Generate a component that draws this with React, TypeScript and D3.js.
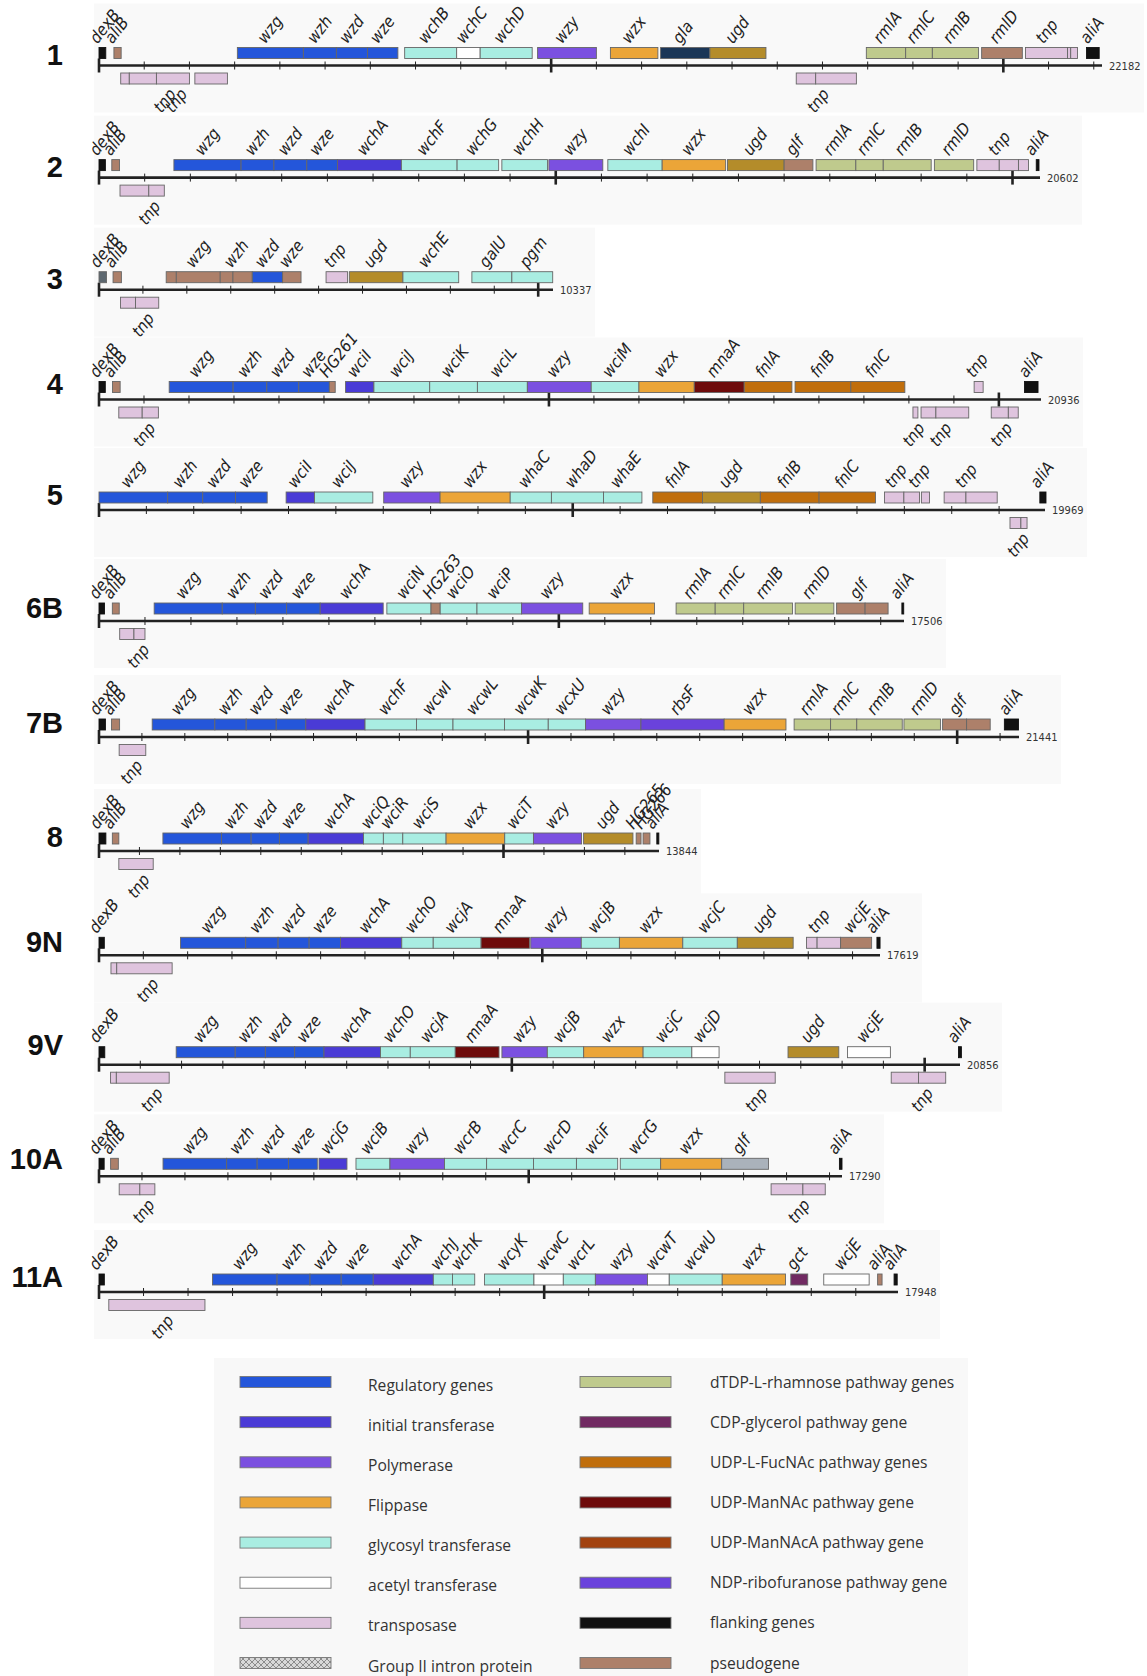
import React from "react";
import * as d3 from "d3";

type Gene = [string, number, number, string, number?];

// ---------- data (gene coordinates in kb) ----------
const rowNames = ["1", "2", "3", "4", "5", "6B", "7B", "8", "9N", "9V", "10A", "11A"];
const rowLengths = [22182, 20602, 10337, 20936, 19969, 17506, 21441, 13844, 17619, 20856, 17290, 17948];

const genes1: Gene[] = [
  ["dexB", 0, 0.15, "flank"], ["aliB", 0.33, 0.49, "pseudo"],
  ["wzg", 3.06, 4.52, "reg"], ["wzh", 4.52, 5.25, "reg"], ["wzd", 5.25, 5.94, "reg"], ["wze", 5.94, 6.61, "reg"],
  ["wchB", 6.76, 7.91, "gly"], ["wchC", 7.91, 8.43, "acet"], ["wchD", 8.43, 9.58, "gly"],
  ["wzy", 9.7, 11.0, "poly"], ["wzx", 11.31, 12.36, "flip"], ["gla", 12.42, 13.51, "gla"], ["ugd", 13.51, 14.75, "ugd"],
  ["rmlA", 16.97, 17.84, "rha"], ["rmlC", 17.84, 18.43, "rha"], ["rmlB", 18.43, 19.45, "rha"], ["rmlD", 19.52, 20.42, "pseudo"],
  ["tnp", 20.49, 21.42, "tnp", 21.0], ["", 21.42, 21.49, "tnp"], ["", 21.49, 21.64, "tnp"], ["aliA", 21.84, 22.12, "flank"],
];
const below1: Gene[] = [
  ["", 0.48, 0.67, "tnp"], ["tnp", 0.67, 1.27, "tnp", 1.4], ["tnp", 1.27, 2.0, "tnp", 1.65], ["", 2.12, 2.84, "tnp"],
  ["tnp", 15.42, 15.85, "tnp", 15.85], ["", 15.85, 16.75, "tnp"],
];

const genes2: Gene[] = [
  ["dexB", 0, 0.14, "flank"], ["aliB", 0.28, 0.45, "pseudo"],
  ["wzg", 1.64, 3.11, "reg"], ["wzh", 3.11, 3.83, "reg"], ["wzd", 3.83, 4.55, "reg"], ["wze", 4.55, 5.22, "reg"],
  ["wchA", 5.22, 6.62, "init"], ["wchF", 6.62, 7.84, "gly"], ["wchG", 7.84, 8.75, "gly"], ["wchH", 8.82, 9.82, "gly"],
  ["wzy", 9.85, 11.03, "poly"], ["wchI", 11.14, 12.33, "gly"], ["wzx", 12.33, 13.72, "flip"], ["ugd", 13.76, 15.0, "ugd"],
  ["glf", 15.0, 15.63, "pseudo"], ["rmlA", 15.7, 16.57, "rha"], ["rmlC", 16.57, 17.17, "rha"], ["rmlB", 17.17, 18.22, "rha"],
  ["rmlD", 18.29, 19.15, "rha"], ["tnp", 19.22, 19.71, "tnp", 19.75], ["", 19.71, 20.13, "tnp"], ["", 20.13, 20.35, "tnp"],
  ["aliA", 20.52, 20.58, "flank"],
];
const below2: Gene[] = [["tnp", 0.46, 1.09, "tnp", 1.05], ["", 1.09, 1.43, "tnp"]];

const genes3: Gene[] = [
  ["dexB", 0, 0.17, "flankgrey"], ["aliB", 0.32, 0.51, "pseudo"],
  ["", 1.53, 1.76, "pseudo"], ["wzg", 1.76, 2.76, "pseudo", 2.26], ["", 2.76, 3.05, "pseudo"], ["wzh", 3.05, 3.49, "pseudo", 3.13],
  ["wzd", 3.49, 4.18, "reg"], ["wze", 4.18, 4.6, "pseudo"], ["tnp", 5.17, 5.66, "tnp"], ["ugd", 5.7, 6.92, "ugd"],
  ["wchE", 6.92, 8.19, "gly"], ["galU", 8.49, 9.4, "gly"], ["pgm", 9.4, 10.33, "gly"],
];
const below3: Gene[] = [["", 0.49, 0.83, "tnp"], ["tnp", 0.83, 1.36, "tnp", 0.95]];

const genes4: Gene[] = [
  ["dexB", 0, 0.14, "flank"], ["aliB", 0.3, 0.47, "pseudo"],
  ["wzg", 1.56, 2.98, "reg"], ["wzh", 2.98, 3.73, "reg"], ["wzd", 3.73, 4.44, "reg"], ["wze", 4.44, 5.12, "reg"],
  ["HG261", 5.12, 5.25, "pseudo"], ["wciI", 5.48, 6.11, "init"], ["wciJ", 6.11, 7.35, "gly"], ["wciK", 7.35, 8.41, "gly"],
  ["wciL", 8.41, 9.52, "gly"], ["wzy", 9.52, 10.94, "poly"], ["wciM", 10.94, 12.0, "gly"], ["wzx", 12.0, 13.23, "flip"],
  ["mnaA", 13.23, 14.34, "mnac"], ["fnlA", 14.34, 15.4, "fuc"], ["fnlB", 15.47, 16.71, "fuc"], ["fnlC", 16.71, 17.91, "fuc"],
  ["tnp", 19.45, 19.65, "tnp"], ["aliA", 20.57, 20.87, "flank"],
];
const below4: Gene[] = [
  ["", 0.44, 0.96, "tnp"], ["tnp", 0.96, 1.32, "tnp", 0.95],
  ["tnp", 18.09, 18.2, "tnp", 18.05], ["", 18.27, 18.6, "tnp"], ["tnp", 18.6, 19.33, "tnp", 18.65],
  ["tnp", 19.83, 20.21, "tnp", 20.0], ["", 20.21, 20.43, "tnp"],
];

const genes5: Gene[] = [
  ["wzg", 0, 1.45, "reg"], ["wzh", 1.45, 2.19, "reg"], ["wzd", 2.19, 2.88, "reg"], ["wze", 2.88, 3.55, "reg"],
  ["wciI", 3.95, 4.55, "init"], ["wciJ", 4.55, 5.78, "gly"], ["wzy", 6.01, 7.2, "poly"], ["wzx", 7.2, 8.68, "flip"],
  ["whaC", 8.68, 9.55, "gly"], ["whaD", 9.55, 10.65, "gly"], ["whaE", 10.65, 11.46, "gly"],
  ["fnlA", 11.69, 12.74, "fuc"], ["ugd", 12.74, 13.96, "ugd"], ["fnlB", 13.96, 15.2, "fuc"], ["fnlC", 15.2, 16.39, "fuc"],
  ["tnp", 16.58, 16.99, "tnp", 16.86], ["", 16.99, 17.32, "tnp"], ["tnp", 17.36, 17.53, "tnp", 17.35],
  ["tnp", 17.84, 18.3, "tnp", 18.34], ["", 18.3, 18.96, "tnp"], ["aliA", 19.86, 19.99, "flank"],
];
const below5: Gene[] = [["", 19.23, 19.46, "tnp"], ["tnp", 19.46, 19.59, "tnp", 19.35]];

const genes6: Gene[] = [
  ["dexB", 0, 0.12, "flank"], ["aliB", 0.29, 0.44, "pseudo"],
  ["wzg", 1.2, 2.68, "reg"], ["wzh", 2.68, 3.4, "reg"], ["wzd", 3.4, 4.08, "reg"], ["wze", 4.08, 4.81, "reg"],
  ["wchA", 4.81, 6.18, "init"], ["wciN", 6.26, 7.22, "gly"], ["HG263", 7.22, 7.42, "pseudo"], ["wciO", 7.42, 8.22, "gly"],
  ["wciP", 8.22, 9.19, "gly"], ["wzy", 9.19, 10.52, "poly"], ["wzx", 10.66, 12.08, "flip"],
  ["rmlA", 12.55, 13.4, "rha"], ["rmlC", 13.4, 14.02, "rha"], ["rmlB", 14.02, 15.08, "rha"], ["rmlD", 15.14, 15.98, "rha"],
  ["glf", 16.04, 16.66, "pseudo", 16.6], ["", 16.66, 17.16, "pseudo"], ["aliA", 17.46, 17.5, "flank"],
];
const below6: Gene[] = [["", 0.45, 0.76, "tnp"], ["tnp", 0.76, 1.0, "tnp", 0.8]];

const genes7: Gene[] = [
  ["dexB", 0, 0.15, "flank"], ["aliB", 0.29, 0.48, "pseudo"],
  ["wzg", 1.24, 2.7, "reg"], ["wzh", 2.7, 3.43, "reg"], ["wzd", 3.43, 4.13, "reg"], ["wze", 4.13, 4.82, "reg"],
  ["wchA", 4.82, 6.2, "init"], ["wchF", 6.2, 7.4, "gly"], ["wcwI", 7.4, 8.25, "gly"], ["wcwL", 8.25, 9.45, "gly"],
  ["wcwK", 9.45, 10.47, "gly"], ["wcxU", 10.47, 11.34, "gly"], ["wzy", 11.34, 12.63, "poly"], ["rbsF", 12.63, 14.57, "ribo"],
  ["wzx", 14.57, 16.01, "flip"], ["rmlA", 16.2, 17.05, "rha"], ["rmlC", 17.05, 17.66, "rha"], ["rmlB", 17.66, 18.72, "rha"],
  ["rmlD", 18.76, 19.61, "rha"], ["glf", 19.66, 20.22, "pseudo", 20.1], ["", 20.22, 20.77, "pseudo"], ["aliA", 21.1, 21.43, "flank"],
];
const below7: Gene[] = [["tnp", 0.47, 1.09, "tnp", 0.7]];

const genes8: Gene[] = [
  ["dexB", 0, 0.17, "flank"], ["aliB", 0.33, 0.49, "pseudo"],
  ["wzg", 1.58, 3.03, "reg"], ["wzh", 3.03, 3.76, "reg"], ["wzd", 3.76, 4.46, "reg"], ["wze", 4.46, 5.17, "reg"],
  ["wchA", 5.17, 6.54, "init"], ["wciQ", 6.54, 7.03, "gly"], ["wciR", 7.03, 7.51, "gly"], ["wciS", 7.51, 8.58, "gly"],
  ["wzx", 8.58, 10.03, "flip"], ["wciT", 10.03, 10.74, "gly"], ["wzy", 10.74, 11.93, "poly"], ["ugd", 11.98, 13.2, "ugd"],
  ["HG265", 13.28, 13.4, "pseudo"], ["HG266", 13.45, 13.62, "pseudo"], ["aliA", 13.79, 13.84, "flank"],
];
const below8: Gene[] = [["tnp", 0.49, 1.34, "tnp", 0.92]];

const genes9N: Gene[] = [
  ["dexB", 0, 0.12, "flank"],
  ["wzg", 1.84, 3.31, "reg"], ["wzh", 3.31, 4.04, "reg"], ["wzd", 4.04, 4.74, "reg"], ["wze", 4.74, 5.45, "reg"],
  ["wchA", 5.45, 6.83, "init"], ["wchO", 6.83, 7.54, "gly"], ["wcjA", 7.54, 8.62, "gly"], ["mnaA", 8.62, 9.71, "mnac"],
  ["wzy", 9.74, 10.88, "poly"], ["wcjB", 10.88, 11.74, "gly"], ["wzx", 11.74, 13.17, "flip"], ["wcjC", 13.17, 14.4, "gly"],
  ["ugd", 14.4, 15.66, "ugd"], ["tnp", 15.96, 16.2, "tnp", 16.28], ["", 16.2, 16.73, "tnp"], ["wcjE", 16.73, 17.43, "pseudo"],
  ["aliA", 17.55, 17.62, "flank"],
];
const below9N: Gene[] = [["", 0.27, 0.4, "tnp"], ["tnp", 0.4, 1.65, "tnp", 1.04]];

const genes9V: Gene[] = [
  ["dexB", 0, 0.14, "flank"],
  ["wzg", 1.87, 3.3, "reg"], ["wzh", 3.3, 4.03, "reg"], ["wzd", 4.03, 4.74, "reg"], ["wze", 4.74, 5.45, "reg"],
  ["wchA", 5.45, 6.82, "init"], ["wchO", 6.82, 7.54, "gly"], ["wcjA", 7.54, 8.63, "gly"], ["mnaA", 8.63, 9.69, "mnac"],
  ["wzy", 9.76, 10.86, "poly"], ["wcjB", 10.86, 11.74, "gly"], ["wzx", 11.74, 13.18, "flip"], ["wcjC", 13.18, 14.36, "gly"],
  ["wcjD", 14.36, 15.02, "acet"], ["ugd", 16.69, 17.92, "ugd"], ["wcjE", 18.13, 19.17, "acet"], ["aliA", 20.82, 20.89, "flank"],
];
const below9V: Gene[] = [
  ["", 0.28, 0.42, "tnp"], ["tnp", 0.42, 1.7, "tnp", 1.22],
  ["tnp", 15.16, 16.38, "tnp", 15.86],
  ["tnp", 19.19, 19.85, "tnp", 19.88], ["", 19.85, 20.51, "tnp"],
];

const genes10A: Gene[] = [
  ["dexB", 0, 0.12, "flank"], ["aliB", 0.27, 0.45, "pseudo"],
  ["wzg", 1.49, 2.97, "reg"], ["wzh", 2.97, 3.68, "reg"], ["wzd", 3.68, 4.41, "reg"], ["wze", 4.41, 5.08, "reg"],
  ["wcjG", 5.12, 5.77, "init"], ["wciB", 5.98, 6.77, "gly"], ["wzy", 6.77, 8.04, "poly"], ["wcrB", 8.04, 9.02, "gly"],
  ["wcrC", 9.02, 10.11, "gly"], ["wcrD", 10.11, 11.11, "gly"], ["wciF", 11.11, 12.07, "gly"], ["wcrG", 12.13, 13.07, "gly"],
  ["wzx", 13.07, 14.49, "flip"], ["glf", 14.49, 15.58, "glfgrey"], ["aliA", 17.23, 17.29, "flank"],
];
const below10A: Gene[] = [
  ["", 0.47, 0.95, "tnp"], ["tnp", 0.95, 1.3, "tnp", 0.98],
  ["tnp", 15.64, 16.38, "tnp", 16.23], ["", 16.38, 16.9, "tnp"],
];

const genes11A: Gene[] = [
  ["dexB", 0, 0.12, "flank"],
  ["wzg", 2.55, 4.0, "reg"], ["wzh", 4.0, 4.74, "reg"], ["wzd", 4.74, 5.44, "reg"], ["wze", 5.44, 6.16, "reg"],
  ["wchA", 6.16, 7.51, "init"], ["wchJ", 7.51, 7.94, "gly"], ["wchK", 7.94, 8.44, "gly"], ["wcyK", 8.66, 9.77, "gly"],
  ["wcwC", 9.77, 10.43, "acet"], ["wcrL", 10.43, 11.15, "gly"], ["wzy", 11.15, 12.32, "poly"], ["wcwT", 12.32, 12.81, "acet"],
  ["wcwU", 12.81, 14.0, "gly"], ["wzx", 14.0, 15.42, "flip"], ["gct", 15.54, 15.92, "cdp"], ["wcjE", 16.28, 17.3, "acet"],
  ["aliA", 17.49, 17.59, "pseudo"], ["aliA", 17.86, 17.93, "flank"],
];
const below11A: Gene[] = [["tnp", 0.22, 2.38, "tnp", 1.37]];

const aboveGenes = [genes1, genes2, genes3, genes4, genes5, genes6, genes7, genes8, genes9N, genes9V, genes10A, genes11A];
const belowGenes = [below1, below2, below3, below4, below5, below6, below7, below8, below9N, below9V, below10A, below11A];

const legendLeft: [string, string][] = [
  ["Regulatory genes", "reg"], ["initial transferase", "init"], ["Polymerase", "poly"], ["Flippase", "flip"],
  ["glycosyl transferase", "gly"], ["acetyl transferase", "acet"], ["transposase", "tnp"], ["Group II intron protein", "intron"],
];
const legendRight: [string, string][] = [
  ["dTDP-L-rhamnose pathway genes", "rha"], ["CDP-glycerol pathway gene", "cdp"], ["UDP-L-FucNAc pathway genes", "fuc"],
  ["UDP-ManNAc pathway gene", "mnac"], ["UDP-ManNAcA pathway gene", "mnaca"], ["NDP-ribofuranose pathway gene", "ribo"],
  ["flanking genes", "flank"], ["pseudogene", "pseudo"],
];

// ---------- styles / layout ----------
const typeColor: Record<string, string> = {
  reg: "#2456da", init: "#4a3bd6", poly: "#7b50e0", flip: "#eba538", gly: "#a9ede2", acet: "#ffffff",
  tnp: "#dfc4de", rha: "#bfca8d", cdp: "#712a62", fuc: "#c06e0c", mnac: "#6e0b0b", mnaca: "#a2420f",
  ribo: "#6a42dc", flank: "#111111", pseudo: "#ad806a", ugd: "#b48c2a", gla: "#1b3657",
  glfgrey: "#aab2bb", flankgrey: "#5d6870", intron: "url(#hatch)",
};

const W = 1147, H = 1676;
const rowAxisY = [65.5, 177.6, 289.7, 399.5, 510, 621, 737, 851, 955.3, 1064.7, 1176.3, 1292];
const rowLabelLift = [0, 0, 0, 5, 4, 2, 3, 3, 2, 9, 6, 4];
const rowAxisEnd = [1102, 1040, 553, 1041, 1045, 904, 1019, 659, 880, 960, 842, 898];
const AXIS_X0 = 99;
const LABEL_FONT = "'Liberation Sans Narrow', 'DejaVu Sans Condensed', 'Liberation Sans', sans-serif";
const LABEL_SIZE = 16.5;
const ROT = -52;

function Panel({ i }: { i: number }) {
  const y = rowAxisY[i];
  return <rect x={94} y={y - 62} width={rowAxisEnd[i] + 42 - 94} height={109} fill="#f9f9f9" />;
}

function Row({ i }: { i: number }) {
  const y = rowAxisY[i];
  const lenKb = rowLengths[i] / 1000;
  const x = d3.scaleLinear().domain([0, lenKb]).range([AXIS_X0, rowAxisEnd[i]]);
  const ticks = d3.range(0, Math.floor(lenKb) + 1);
  const boxTop = y - 18;
  const boxH = 11;
  const belowTop = y + 7.5;
  const above = aboveGenes[i];
  const below = belowGenes[i];
  return (
    <g>
      <text x={63} y={y - 1 - rowLabelLift[i]} textAnchor="end" fontFamily="'Liberation Sans', Arial, sans-serif" fontWeight="bold" fontSize={29} fill="#111">
        {rowNames[i]}
      </text>
      <line x1={x(0)} x2={x(lenKb)} y1={y} y2={y} stroke="#222" strokeWidth={2.6} />
      {ticks.map((t) => {
        const major = t % 10 === 0;
        return (
          <line key={t} x1={x(t)} x2={x(t)} y1={y - (major ? 7 : 4)} y2={y + (major ? 7 : 4)}
            stroke="#222" strokeWidth={major ? 2.6 : 1} />
        );
      })}
      <text x={x(lenKb) + 7} y={y + 4} fontSize={11} fontFamily={LABEL_FONT} fill="#333">{rowLengths[i]}</text>
      {above.map((g, k) => (
        <rect key={"a" + k} x={x(g[1])} y={boxTop} width={Math.max(1.5, x(g[2]) - x(g[1]))} height={boxH}
          fill={typeColor[g[3]]} stroke={g[3] === "flank" ? "#111" : "#666"} strokeWidth={0.9} />
      ))}
      {below.map((g, k) => (
        <rect key={"b" + k} x={x(g[1])} y={belowTop} width={Math.max(1.5, x(g[2]) - x(g[1]))} height={boxH}
          fill={typeColor[g[3]]} stroke="#666" strokeWidth={0.9} />
      ))}
      {above.filter((g) => g[0]).map((g, k) => {
        const c = g[4] !== undefined ? g[4] : (g[1] + g[2]) / 2;
        return (
          <text key={"la" + k} transform={`translate(${x(c) - 5},${boxTop - 3}) rotate(${ROT})`}
            fontFamily={LABEL_FONT} fontStyle="italic" fontSize={LABEL_SIZE} fill="#222">{g[0]}</text>
        );
      })}
      {below.filter((g) => g[0]).map((g, k) => {
        const c = g[4] !== undefined ? g[4] : (g[1] + g[2]) / 2;
        return (
          <text key={"lb" + k} transform={`translate(${x(c) + 5},${belowTop + boxH + 3}) rotate(${ROT})`}
            textAnchor="end" dominantBaseline="hanging"
            fontFamily={LABEL_FONT} fontStyle="italic" fontSize={LABEL_SIZE} fill="#222">{g[0]}</text>
        );
      })}
    </g>
  );
}

function Legend() {
  const ys = d3.scaleLinear().domain([0, 7]).range([1382, 1663]);
  const cols: { items: [string, string][]; sx: number; tx: number }[] = [
    { items: legendLeft, sx: 240, tx: 368 },
    { items: legendRight, sx: 580, tx: 710 },
  ];
  return (
    <g>
      <rect x={214} y={1358} width={754} height={318} fill="#f8f8f8" />
      {cols.map((col, ci) =>
        col.items.map(([label, t], k) => (
          <g key={ci + "-" + k}>
            <rect x={col.sx} y={ys(k) - 5.5} width={91} height={11} fill={typeColor[t]} stroke="#777" strokeWidth={0.9} />
            <text x={col.tx} y={ys(k) + 5.5 + (ci === 0 ? 3 : 0)} fontFamily="'Open Sans', 'DejaVu Sans', sans-serif"
              fontSize={15.6} fill="#333">{label}</text>
          </g>
        ))
      )}
    </g>
  );
}

export default function App() {
  return (
    <div style={{ position: "absolute", left: 0, top: 0 }}>
      <svg width={W} height={H} style={{ display: "block", background: "#ffffff" }}>
        <defs>
          <pattern id="hatch" width={6} height={6} patternUnits="userSpaceOnUse">
            <rect width={6} height={6} fill="#d8d8d8" />
            <path d="M0,0 L6,6 M6,0 L0,6" stroke="#777" strokeWidth={0.8} />
          </pattern>
        </defs>
        {rowNames.map((_, i) => <Panel key={"p" + i} i={i} />)}
        {rowNames.map((_, i) => <Row key={i} i={i} />)}
        <Legend />
      </svg>
    </div>
  );
}
